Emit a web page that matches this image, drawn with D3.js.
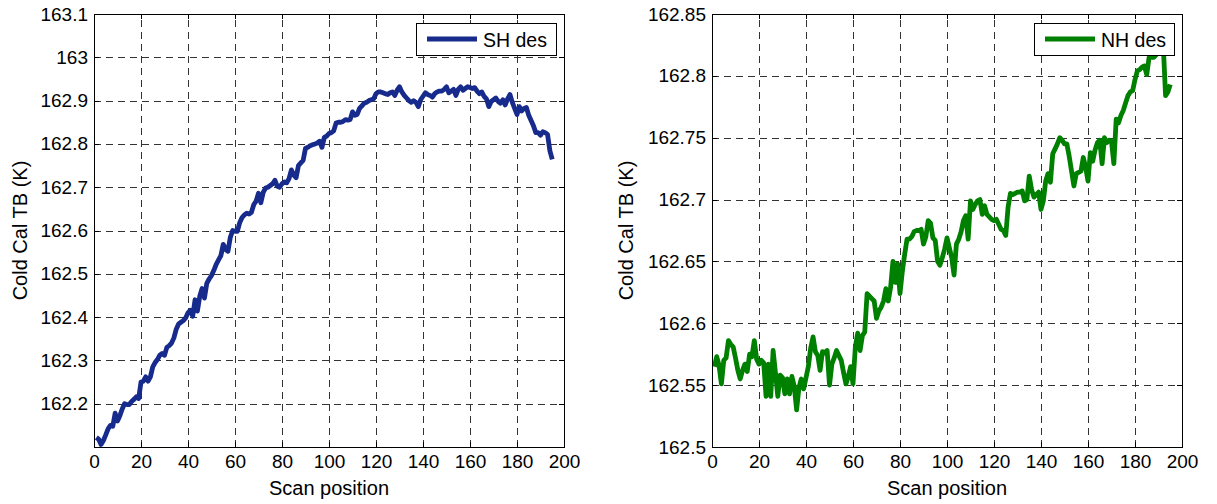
<!DOCTYPE html>
<html>
<head>
<meta charset="utf-8">
<script src="https://cdn.jsdelivr.net/npm/d3@7"></script>
<style>
  body { margin: 0; background: #fff; }
  svg { display: block; font-family: "Liberation Sans", Arial, sans-serif; }
  .grid line { stroke: #333; stroke-width: 1; stroke-dasharray: 7,5; shape-rendering: crispEdges; }
  .axis text { font-size: 19px; fill: #000; }
  .axis line { stroke: #000; shape-rendering: crispEdges; }
  .axis path { display: none; }
  .frame { fill: none; stroke: #000; stroke-width: 1.2; shape-rendering: crispEdges; }
  .axis-label { font-size: 20px; fill: #000; }
  .legend rect { fill: #fff; stroke: #000; stroke-width: 1; shape-rendering: crispEdges; }
  .legend text { font-size: 19.5px; fill: #000; }
</style>
</head>
<body>
<svg id="chart" width="1217" height="504"></svg>
<script>
// cold cal TB per scan position (1..195)
const shDes = [
  162.122, 162.118, 162.106, 162.115, 162.128, 162.142, 162.150, 162.148, 162.178, 162.160,
  162.172, 162.188, 162.200, 162.198, 162.198, 162.205, 162.210, 162.216, 162.212, 162.250,
  162.252, 162.262, 162.252, 162.262, 162.285, 162.295, 162.302, 162.312, 162.316, 162.312,
  162.330, 162.334, 162.340, 162.352, 162.372, 162.384, 162.388, 162.392, 162.398, 162.410,
  162.416, 162.402, 162.440, 162.414, 162.448, 162.466, 162.444, 162.478, 162.488, 162.496,
  162.508, 162.522, 162.532, 162.542, 162.568, 162.556, 162.552, 162.584, 162.600, 162.598,
  162.598, 162.618, 162.630, 162.636, 162.640, 162.638, 162.642, 162.660, 162.668, 162.686,
  162.664, 162.688, 162.698, 162.700, 162.704, 162.708, 162.716, 162.702, 162.700, 162.708,
  162.712, 162.710, 162.720, 162.740, 162.728, 162.722, 162.750, 162.756, 162.762, 162.790,
  162.792, 162.796, 162.798, 162.800, 162.802, 162.806, 162.792, 162.815, 162.818, 162.824,
  162.826, 162.830, 162.848, 162.850, 162.850, 162.852, 162.856, 162.855, 162.856, 162.874,
  162.866, 162.868, 162.882, 162.888, 162.894, 162.896, 162.900, 162.902, 162.904, 162.916,
  162.920, 162.920, 162.918, 162.916, 162.914, 162.918, 162.920, 162.912, 162.924, 162.932,
  162.920, 162.912, 162.906, 162.900, 162.896, 162.900, 162.896, 162.886, 162.902, 162.910,
  162.918, 162.914, 162.912, 162.908, 162.916, 162.920, 162.922, 162.922, 162.926, 162.932,
  162.918, 162.922, 162.926, 162.912, 162.926, 162.932, 162.924, 162.928, 162.932, 162.930,
  162.928, 162.930, 162.922, 162.916, 162.920, 162.910, 162.904, 162.886, 162.898, 162.902,
  162.906, 162.898, 162.894, 162.902, 162.890, 162.904, 162.914, 162.896, 162.882, 162.868,
  162.886, 162.876, 162.882, 162.884, 162.866, 162.854, 162.842, 162.826, 162.826, 162.820,
  162.828, 162.826, 162.822, 162.784, 162.764
];
const nhDes = [
  162.565, 162.573, 162.566, 162.551, 162.570, 162.572, 162.586, 162.583, 162.581, 162.572,
  162.562, 162.555, 162.562, 162.567, 162.561, 162.575, 162.573, 162.586, 162.571, 162.567,
  162.570, 162.568, 162.541, 162.567, 162.541, 162.578, 162.560, 162.541, 162.558, 162.556,
  162.543, 162.555, 162.543, 162.557, 162.549, 162.530, 162.548, 162.555, 162.547, 162.556,
  162.565, 162.580, 162.589, 162.577, 162.574, 162.562, 162.577, 162.576, 162.578, 162.550,
  162.567, 162.572, 162.578, 162.574, 162.570, 162.560, 162.551, 162.557, 162.565, 162.551,
  162.581, 162.592, 162.578, 162.590, 162.593, 162.624, 162.622, 162.620, 162.618, 162.604,
  162.610, 162.613, 162.618, 162.628, 162.618, 162.629, 162.650, 162.633, 162.648, 162.624,
  162.642, 162.656, 162.668, 162.668, 162.670, 162.674, 162.675, 162.675, 162.676, 162.664,
  162.670, 162.683, 162.681, 162.669, 162.667, 162.650, 162.647, 162.653, 162.660, 162.669,
  162.661, 162.653, 162.639, 162.664, 162.668, 162.674, 162.683, 162.687, 162.668, 162.699,
  162.692, 162.696, 162.699, 162.700, 162.688, 162.695, 162.688, 162.686, 162.684, 162.683,
  162.684, 162.680, 162.676, 162.675, 162.671, 162.694, 162.705, 162.704, 162.705, 162.706,
  162.706, 162.707, 162.699, 162.700, 162.719, 162.708, 162.702, 162.704, 162.706, 162.692,
  162.699, 162.715, 162.721, 162.714, 162.737, 162.741, 162.745, 162.750, 162.748, 162.745,
  162.745, 162.735, 162.723, 162.711, 162.721, 162.722, 162.723, 162.734, 162.726, 162.715,
  162.738, 162.731, 162.740, 162.746, 162.748, 162.729, 162.750, 162.746, 162.748, 162.747,
  162.729, 162.765, 162.762, 162.768, 162.772, 162.778, 162.784, 162.787, 162.788, 162.797,
  162.804, 162.805, 162.807, 162.808, 162.801, 162.815, 162.815, 162.815, 162.817, 162.822,
  162.828, 162.826, 162.784, 162.787, 162.793
];
const xTicks = [0, 20, 40, 60, 80, 100, 120, 140, 160, 180, 200];
const shTicks = [162.2, 162.3, 162.4, 162.5, 162.6, 162.7, 162.8, 162.9, 163, 163.1];
const nhTicks = [162.5, 162.55, 162.6, 162.65, 162.7, 162.75, 162.8, 162.85];

const plotTop = 14, plotBottom = 447, plotW = 470;

const panels = [
  { name: "SH des", values: shDes, color: "#172b8c", left: 94, yDomain: [162.1, 163.1], yTicks: shTicks, labelX: 27 },
  { name: "NH des", values: nhDes, color: "#008000", left: 712, yDomain: [162.5, 162.85], yTicks: nhTicks, labelX: 633 }
];

const svg = d3.select("#chart");

function renderPanel(p) {
  const x = d3.scaleLinear().domain([0, 200]).range([p.left, p.left + plotW]);
  const y = d3.scaleLinear().domain(p.yDomain).range([plotBottom, plotTop]);
  const g = svg.append("g");

  // dashed grid (skip the lines that sit on the frame)
  const grid = g.append("g").attr("class", "grid");
  grid.selectAll(".gx")
    .data(xTicks.filter(d => d > 0 && d < 200))
    .enter().append("line")
    .attr("x1", d => Math.round(x(d)) + 0.5).attr("x2", d => Math.round(x(d)) + 0.5)
    .attr("y1", plotBottom).attr("y2", plotTop);
  grid.selectAll(".gy")
    .data(p.yTicks.filter(d => d > p.yDomain[0] + 1e-9 && d < p.yDomain[1] - 1e-9))
    .enter().append("line")
    .attr("y1", d => Math.round(y(d)) + 0.5).attr("y2", d => Math.round(y(d)) + 0.5)
    .attr("x1", p.left).attr("x2", p.left + plotW);

  // axes, ticks pointing inward
  g.append("g").attr("class", "axis")
    .attr("transform", `translate(0,${plotBottom})`)
    .call(d3.axisBottom(x).tickValues(xTicks).tickSize(-5).tickPadding(8).tickFormat(d => String(d)));
  g.append("g").attr("class", "axis")
    .attr("transform", `translate(${p.left},0)`)
    .call(d3.axisLeft(y).tickValues(p.yTicks).tickSize(-5).tickPadding(6).tickFormat(d => String(d)));
  g.append("g").attr("class", "axis")
    .attr("transform", `translate(0,${plotTop})`)
    .call(d3.axisTop(x).tickValues(xTicks).tickSize(-5).tickFormat(""));
  g.append("g").attr("class", "axis")
    .attr("transform", `translate(${p.left + plotW},0)`)
    .call(d3.axisRight(y).tickValues(p.yTicks).tickSize(-5).tickFormat(""));

  // the series
  const line = d3.line()
    .x((d, i) => x(i + 1))
    .y(d => y(d));
  g.append("path")
    .datum(p.values)
    .attr("fill", "none")
    .attr("stroke", p.color)
    .attr("stroke-width", 4.8)
    .attr("stroke-linejoin", "round")
    .attr("stroke-linecap", "butt")
    .attr("d", line);

  g.append("rect").attr("class", "frame")
    .attr("x", p.left + 0.5).attr("y", plotTop + 0.5)
    .attr("width", plotW).attr("height", plotBottom - plotTop);

  // axis titles
  g.append("text").attr("class", "axis-label")
    .attr("x", p.left + plotW / 2).attr("y", 495)
    .attr("text-anchor", "middle")
    .text("Scan position");
  g.append("text").attr("class", "axis-label")
    .attr("transform", `translate(${p.labelX},${(plotTop + plotBottom) / 2}) rotate(-90)`)
    .attr("text-anchor", "middle")
    .text("Cold Cal TB (K)");

  // legend box, top right
  const lg = g.append("g").attr("class", "legend")
    .attr("transform", `translate(${p.left + plotW - 148},23)`);
  lg.append("rect").attr("x", 0.5).attr("y", 0.5).attr("width", 140).attr("height", 32);
  lg.append("line")
    .attr("x1", 11).attr("x2", 61).attr("y1", 16).attr("y2", 16)
    .attr("stroke", p.color).attr("stroke-width", 4.8);
  lg.append("text").attr("x", 67).attr("y", 23.5).text(p.name);
}

panels.forEach(renderPanel);
</script>
</body>
</html>
